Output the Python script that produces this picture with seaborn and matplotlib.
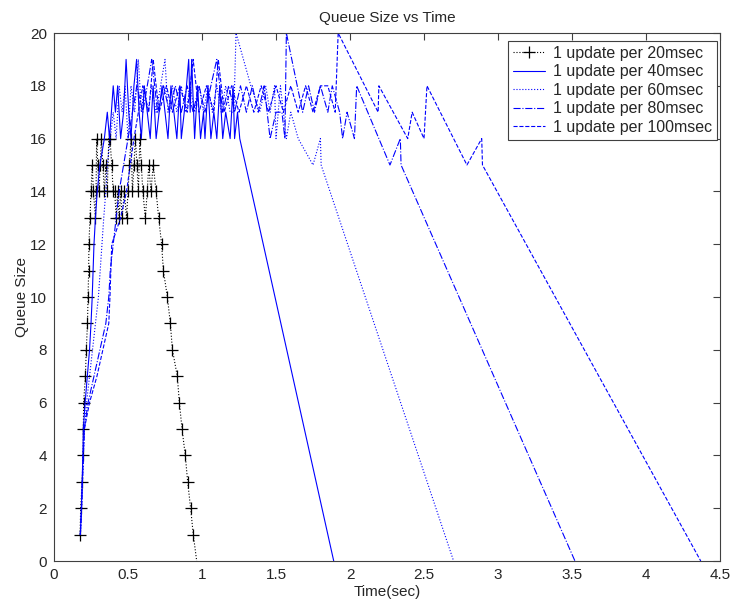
import matplotlib
matplotlib.use("Agg")
import matplotlib.pyplot as plt
import seaborn as sns

# 1 update per 20 msec (black dotted, + markers)
t20 = [0.176, 0.180, 0.190, 0.196, 0.198, 0.200, 0.212, 0.218, 0.226, 0.230, 0.234, 0.236, 0.243,
       0.250, 0.258, 0.266, 0.280, 0.284, 0.288, 0.296, 0.304, 0.312, 0.320, 0.330, 0.340, 0.350, 0.360, 0.370, 0.378,
       0.390, 0.400, 0.410, 0.420, 0.430, 0.440, 0.450, 0.460, 0.475, 0.490, 0.500, 0.510, 0.520, 0.530, 0.540, 0.550,
       0.560, 0.570, 0.580, 0.590, 0.600, 0.617, 0.630, 0.640, 0.655, 0.670, 0.690, 0.707,
       0.727, 0.739, 0.766, 0.786, 0.800, 0.833, 0.847, 0.865, 0.887, 0.903, 0.923, 0.941, 0.964]
q20 = [1, 2, 3, 4, 5, 6, 7, 8, 9, 10, 11, 12, 13,
       14, 15, 14, 13, 14, 16, 15, 14, 15, 16, 15, 14, 15, 14, 16, 16,
       15, 14, 14, 13, 14, 13, 14, 13, 14, 13, 14, 15, 16, 14, 15, 16,
       15, 14, 16, 15, 14, 13, 14, 15, 14, 15, 14, 13,
       12, 11, 10, 9, 8, 7, 6, 5, 4, 3, 2, 1, 0]

# 1 update per 40 msec (solid)
t40 = [0.178, 0.185, 0.190, 0.195, 0.198, 0.210, 0.225, 0.240, 0.250, 0.258, 0.264, 0.270, 0.280, 0.292, 0.310,
       0.340, 0.360, 0.375, 0.400, 0.415, 0.430, 0.450, 0.470, 0.487, 0.505, 0.520, 0.540, 0.558, 0.575, 0.590,
       0.610, 0.630, 0.650, 0.670, 0.690, 0.710, 0.730, 0.750, 0.770, 0.790, 0.810, 0.830, 0.850, 0.860, 0.880,
       0.910, 0.920, 0.930, 0.950, 0.970, 0.990, 1.010, 1.020, 1.040, 1.060, 1.080, 1.100, 1.120, 1.140, 1.160,
       1.190, 1.210, 1.220, 1.240, 1.255, 1.890]
q40 = [1, 2, 3, 4, 5, 6, 7, 8, 9, 10, 11, 12, 13, 14, 15,
       16, 17, 16, 18, 17, 18, 16, 17, 19, 17, 16, 18, 19, 17, 16,
       18, 17, 16, 18, 16, 17, 18, 17, 16, 18, 17, 16, 18, 16, 17,
       19, 17, 19, 16, 18, 16, 17, 16, 18, 16, 17, 16, 18, 16, 17,
       16, 18, 16, 17, 16, 0]

# 1 update per 60 msec (dotted)
t60 = [0.178, 0.186, 0.192, 0.198, 0.205, 0.220, 0.240, 0.260, 0.280, 0.300, 0.312, 0.324, 0.336, 0.350, 0.360,
       0.380, 0.400, 0.420, 0.440, 0.460, 0.480, 0.500, 0.520, 0.545, 0.570, 0.590, 0.610, 0.635, 0.660, 0.690,
       0.720, 0.750, 0.770, 0.800, 0.830, 0.860, 0.890, 0.920, 0.950, 0.980, 1.010, 1.040, 1.070, 1.100, 1.130,
       1.160, 1.190, 1.215, 1.230, 1.280, 1.330, 1.390, 1.430, 1.460, 1.490, 1.500, 1.530, 1.570, 1.600, 1.650,
       1.750, 1.800, 1.805, 2.700]
q60 = [1, 2, 3, 4, 5, 6, 7, 8, 9, 10, 11, 12, 13, 14, 15,
       16, 17, 16, 18, 17, 18, 16, 18, 17, 19, 17, 18, 17, 18, 17,
       18, 19, 17, 18, 17, 18, 17, 18, 17, 18, 17, 18, 17, 18, 17,
       18, 17, 17, 20, 19, 18, 17, 18, 17, 18, 16, 18, 16, 17, 16,
       15, 16, 15, 0]

# 1 update per 80 msec (dash-dot)
t80 = [0.178, 0.186, 0.192, 0.198, 0.205, 0.230, 0.270, 0.310, 0.350, 0.370, 0.380, 0.400, 0.420, 0.440, 0.470,
       0.500, 0.530, 0.560, 0.600, 0.630, 0.660, 0.700, 0.740, 0.780, 0.820, 0.860, 0.900, 0.940, 0.980, 1.020,
       1.060, 1.100, 1.140, 1.180, 1.220, 1.260, 1.300, 1.340, 1.380, 1.420, 1.460, 1.500, 1.540, 1.560, 1.570,
       1.680, 1.720, 1.760, 1.800, 1.850, 1.880, 1.930, 1.950, 1.980, 2.030, 2.045, 2.270, 2.340, 2.345, 3.520]
q80 = [1, 2, 3, 4, 5, 6, 7, 8, 9, 10, 11, 12, 13, 14, 15,
       16, 17, 18, 17, 18, 19, 17, 18, 17, 18, 17, 18, 17, 18, 17,
       18, 19, 17, 18, 17, 18, 17, 18, 17, 18, 16, 17, 17, 16, 20,
       17, 18, 17, 18, 17, 18, 17, 16, 17, 16, 18, 15, 16, 15, 0]

# 1 update per 100 msec (dashed)
t100 = [0.178, 0.186, 0.192, 0.198, 0.205, 0.240, 0.290, 0.330, 0.370, 0.378, 0.384, 0.390, 0.450, 0.490, 0.515,
        0.540, 0.570, 0.600, 0.640, 0.670, 0.710, 0.760, 0.800, 0.850, 0.900, 0.940, 0.980, 1.030, 1.080, 1.110,
        1.150, 1.200, 1.250, 1.300, 1.350, 1.400, 1.450, 1.500, 1.550, 1.600, 1.650, 1.700, 1.750, 1.800, 1.850,
        1.900, 1.920, 2.190, 2.195, 2.390, 2.420, 2.500, 2.520, 2.790, 2.890, 2.895, 4.370]
q100 = [1, 2, 3, 4, 5, 6, 7, 8, 9, 10, 11, 12, 13, 14, 15,
        16, 17, 18, 17, 19, 17, 18, 17, 18, 17, 19, 17, 18, 17, 19,
        17, 18, 17, 18, 17, 18, 17, 18, 17, 18, 17, 18, 17, 18, 18,
        17, 20, 17, 18, 16, 17, 16, 18, 15, 16, 15, 0]

labels = ["1 update per 20msec", "1 update per 40msec", "1 update per 60msec",
          "1 update per 80msec", "1 update per 100msec"]
x_ticks = [0, 0.5, 1, 1.5, 2, 2.5, 3, 3.5, 4, 4.5]
x_tick_labels = ["0", "0.5", "1", "1.5", "2", "2.5", "3", "3.5", "4", "4.5"]
y_ticks = list(range(0, 21, 2))

sns.set_theme(style="white")
plt.rcParams["font.family"] = ["Liberation Sans", "DejaVu Sans"]

fig = plt.figure(figsize=(7.38, 6.09), dpi=100)
ax = fig.add_axes([0.0732, 0.0788, 0.9024, 0.867])

common = dict(ax=ax, sort=False, estimator=None)
sns.lineplot(x=t20, y=q20, color="black", linestyle=":", linewidth=0.8,
             marker="+", markersize=8, mec="black", mew=0.9,
             markevery=list(range(len(t20) - 1)), label=labels[0], **common)
sns.lineplot(x=t40, y=q40, color="#0000ff", linestyle="-", linewidth=0.8,
             label=labels[1], **common)
sns.lineplot(x=t60, y=q60, color="#0000ff", linestyle=":", linewidth=0.8,
             label=labels[2], **common)
sns.lineplot(x=t80, y=q80, color="#0000ff", linestyle="-.", linewidth=0.8,
             label=labels[3], **common)
sns.lineplot(x=t100, y=q100, color="#0000ff", linestyle="--", linewidth=0.8,
             label=labels[4], **common)

ax.set_xlim(0, 4.5)
ax.set_ylim(0, 20)
ax.set_xticks(x_ticks)
ax.set_xticklabels(x_tick_labels)
ax.set_yticks(y_ticks)
ax.tick_params(direction="in", top=True, right=True, length=5, width=0.8,
               color="#404040", labelsize=11, pad=5)
for sp in ax.spines.values():
    sp.set_color("#404040")
    sp.set_linewidth(0.8)

ax.set_title("Queue Size vs Time", fontsize=11, pad=8)
ax.set_xlabel("Time(sec)", fontsize=11, labelpad=2)
ax.set_ylabel("Queue Size", fontsize=11, labelpad=1)

leg = ax.legend(loc="upper right", bbox_to_anchor=(0.9955, 0.985), borderaxespad=0,
                fontsize=11.5, fancybox=False, framealpha=1, edgecolor="#404040",
                handlelength=2.0, labelspacing=0.22, borderpad=0.3, handletextpad=0.5)
leg.get_frame().set_linewidth(0.8)

fig.savefig("out.png", dpi=100)
